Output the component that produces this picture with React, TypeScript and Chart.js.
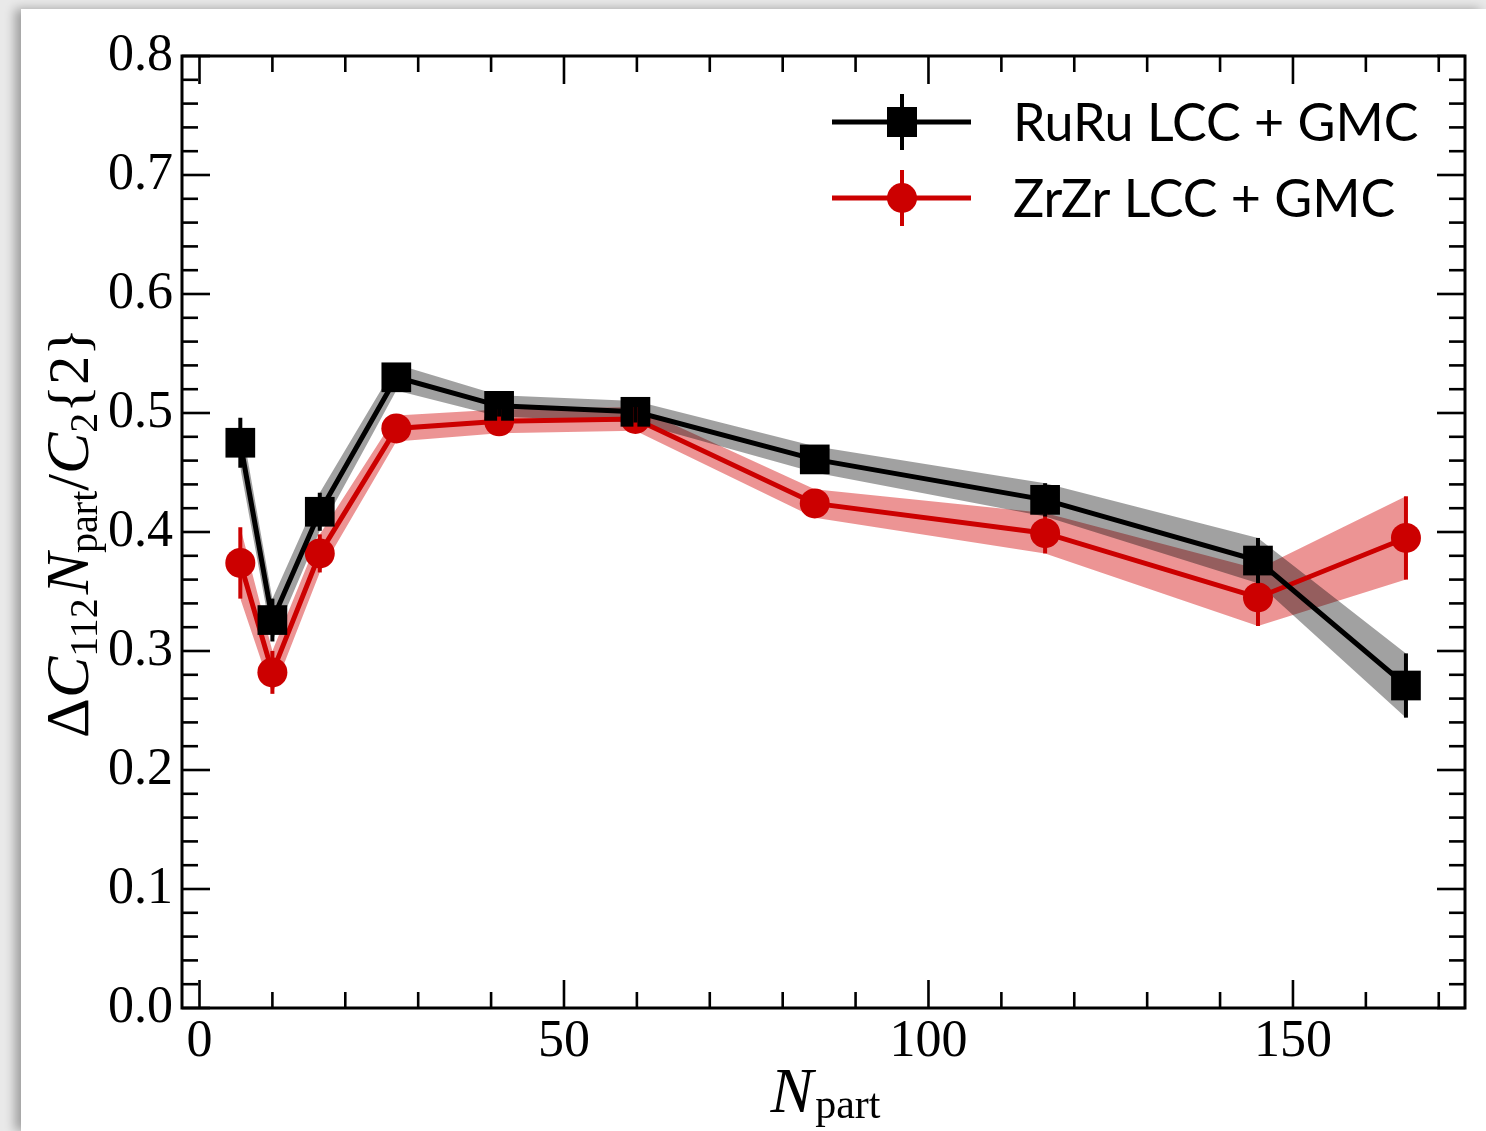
import React, { useEffect, useRef } from 'react';
import { Chart, registerables } from 'chart.js';

Chart.register(...registerables);

// Participant numbers of the centrality bins
const nPart = [5.6, 10, 16.5, 27, 41.1, 59.8, 84.4, 116, 145.2, 165.5];

// ΔC112 Npart / C2{2} for each system, with uncertainties
const ruruValues = [0.475, 0.326, 0.417, 0.53, 0.506, 0.501, 0.461, 0.427, 0.376, 0.271];
const ruruErrors = [0.021, 0.018, 0.016, 0.011, 0.009, 0.009, 0.011, 0.014, 0.019, 0.027];
const zrzrValues = [0.374, 0.282, 0.382, 0.487, 0.493, 0.495, 0.424, 0.399, 0.345, 0.395];
const zrzrErrors = [0.03, 0.018, 0.016, 0.011, 0.01, 0.01, 0.012, 0.017, 0.024, 0.035];

const seriesLabels = ['RuRu LCC + GMC', 'ZrZr LCC + GMC'];

// Axis ranges and tick spacing
const xRange = [-2.4, 173.6];
const yRange = [0, 0.8];
const xMinorStep = 10;
const xMajorStep = 50;
const yMinorStep = 0.02;
const yMajorStep = 0.1;

const BLACK = '#000000';
const RED = '#cc0000';
const BLACK_BAND = 'rgba(0,0,0,0.37)';
const RED_BAND = 'rgba(210,0,0,0.42)';
const SERIF = '"Liberation Serif", "DejaVu Serif", serif';
const SANS = 'Lato, "Liberation Sans", sans-serif';

const isMultiple = (v: number, step: number) => Math.abs(v / step - Math.round(v / step)) < 1e-6;

type Seg = { t: string; size: number; italic?: boolean; dy?: number; gap?: number };

function drawRich(ctx: CanvasRenderingContext2D, segs: Seg[], cx: number, baseline: number) {
  const fontOf = (s: Seg) => `${s.italic ? 'italic ' : ''}${s.size}px ${SERIF}`;
  const widths = segs.map((s) => {
    ctx.font = fontOf(s);
    return ctx.measureText(s.t).width + (s.gap || 0);
  });
  const total = widths.reduce((a, b) => a + b, 0);
  let x = cx - total / 2;
  ctx.textAlign = 'left';
  ctx.textBaseline = 'alphabetic';
  segs.forEach((s, i) => {
    ctx.font = fontOf(s);
    ctx.fillText(s.t, x, baseline + (s.dy || 0));
    x += widths[i];
  });
}

const toPoints = (vals: number[], shift: number[] = [], sign = 0) =>
  nPart.map((x, i) => ({ x, y: vals[i] + sign * (shift[i] || 0) }));

// Vertical error bars on top of the data lines
const errorBars = {
  id: 'errorBars',
  afterDatasetsDraw(chart: any) {
    const { ctx, scales } = chart;
    const sets = [
      { vals: zrzrValues, errs: zrzrErrors, color: RED },
      { vals: ruruValues, errs: ruruErrors, color: BLACK },
    ];
    ctx.save();
    ctx.lineWidth = 4;
    sets.forEach(({ vals, errs, color }) => {
      ctx.strokeStyle = color;
      nPart.forEach((x, i) => {
        const px = scales.x.getPixelForValue(x);
        ctx.beginPath();
        ctx.moveTo(px, scales.y.getPixelForValue(vals[i] + errs[i]));
        ctx.lineTo(px, scales.y.getPixelForValue(vals[i] - errs[i]));
        ctx.stroke();
      });
    });
    ctx.restore();
  },
};

// Frame with inward ticks on all four sides, axis titles and legend
const frameAndLabels = {
  id: 'frameAndLabels',
  afterDraw(chart: any) {
    const { ctx, chartArea, scales } = chart;
    const { left, right, top, bottom } = chartArea;
    ctx.save();
    ctx.strokeStyle = '#000';
    ctx.lineWidth = 3;
    ctx.strokeRect(left, top, right - left, bottom - top);

    ctx.lineWidth = 2.6;
    const seg = (x1: number, y1: number, x2: number, y2: number) => {
      ctx.beginPath();
      ctx.moveTo(x1, y1);
      ctx.lineTo(x2, y2);
      ctx.stroke();
    };
    scales.x.ticks.forEach((t: any) => {
      const px = scales.x.getPixelForValue(t.value);
      const len = isMultiple(t.value, xMajorStep) ? 28 : 16;
      seg(px, bottom, px, bottom - len);
      seg(px, top, px, top + len);
    });
    scales.y.ticks.forEach((t: any) => {
      const py = scales.y.getPixelForValue(t.value);
      const len = isMultiple(t.value, yMajorStep) ? 28 : 16;
      seg(left, py, left + len, py);
      seg(right, py, right - len, py);
    });

    ctx.fillStyle = '#000';
    // x title: N_part
    drawRich(
      ctx,
      [
        { t: 'N', size: 64, italic: true, gap: 2 },
        { t: 'part', size: 42, dy: 6 },
      ],
      (left + right) / 2 + 2,
      1112
    );

    // y title: ΔC_112 N_part / C_2{2}
    ctx.save();
    ctx.translate(88, (top + bottom) / 2 + 1);
    ctx.rotate(-Math.PI / 2);
    drawRich(
      ctx,
      [
        { t: 'Δ', size: 62 },
        { t: 'C', size: 62, italic: true },
        { t: '112', size: 40, dy: 9, gap: 4 },
        { t: 'N', size: 62, italic: true },
        { t: 'part', size: 40, dy: 9 },
        { t: '/', size: 60 },
        { t: 'C', size: 62, italic: true },
        { t: '2', size: 40, dy: 9 },
        { t: '{2}', size: 58 },
      ],
      0,
      0
    );
    ctx.restore();

    // legend
    const entries = [
      { label: seriesLabels[0], color: BLACK, y: 122, shape: 'rect' },
      { label: seriesLabels[1], color: RED, y: 198, shape: 'circle' },
    ];
    const lx0 = 832;
    const lx1 = 971;
    const mx = 902;
    entries.forEach((e) => {
      ctx.strokeStyle = e.color;
      ctx.fillStyle = e.color;
      ctx.lineWidth = 5;
      seg(lx0, e.y, lx1, e.y);
      ctx.lineWidth = 4;
      seg(mx, e.y - 28, mx, e.y + 28);
      if (e.shape === 'rect') {
        ctx.fillRect(mx - 15, e.y - 15, 30, 30);
      } else {
        ctx.beginPath();
        ctx.arc(mx, e.y, 15, 0, Math.PI * 2);
        ctx.fill();
      }
      ctx.fillStyle = '#000';
      ctx.font = `52px ${SANS}`;
      ctx.textAlign = 'left';
      ctx.textBaseline = 'alphabetic';
      ctx.fillText(e.label, 1013, e.y + 19);
    });
    ctx.restore();
  },
};

export default function App() {
  const canvasRef = useRef<HTMLCanvasElement | null>(null);

  useEffect(() => {
    const canvas = canvasRef.current;
    if (!canvas) return;
    const tickFont = { family: SERIF, size: 52 };

    const chart = new Chart(canvas, {
      type: 'line',
      data: {
        datasets: [
          {
            label: seriesLabels[0],
            data: toPoints(ruruValues),
            borderColor: BLACK,
            backgroundColor: BLACK,
            borderWidth: 5,
            pointStyle: 'rect',
            pointRadius: 21,
            pointBorderWidth: 0,
            pointBackgroundColor: BLACK,
            tension: 0,
            fill: false,
            order: 0,
          },
          {
            label: seriesLabels[1],
            data: toPoints(zrzrValues),
            borderColor: RED,
            backgroundColor: RED,
            borderWidth: 5,
            pointStyle: 'circle',
            pointRadius: 15,
            pointBorderWidth: 0,
            pointBackgroundColor: RED,
            tension: 0,
            fill: false,
            order: 1,
          },
          {
            label: 'RuRu band upper',
            data: toPoints(ruruValues, ruruErrors, 1),
            borderWidth: 0,
            pointRadius: 0,
            backgroundColor: BLACK_BAND,
            fill: '+1',
            order: 2,
          },
          {
            label: 'RuRu band lower',
            data: toPoints(ruruValues, ruruErrors, -1),
            borderWidth: 0,
            pointRadius: 0,
            fill: false,
            order: 2,
          },
          {
            label: 'ZrZr band upper',
            data: toPoints(zrzrValues, zrzrErrors, 1),
            borderWidth: 0,
            pointRadius: 0,
            backgroundColor: RED_BAND,
            fill: '+1',
            order: 3,
          },
          {
            label: 'ZrZr band lower',
            data: toPoints(zrzrValues, zrzrErrors, -1),
            borderWidth: 0,
            pointRadius: 0,
            fill: false,
            order: 3,
          },
        ] as any,
      },
      options: {
        animation: false,
        responsive: false,
        layout: { padding: { top: 56, right: 17, left: 0, bottom: 0 } },
        plugins: {
          legend: { display: false },
          tooltip: { enabled: false },
        },
        scales: {
          x: {
            type: 'linear',
            min: xRange[0],
            max: xRange[1],
            grid: { display: false, drawTicks: false },
            border: { display: false },
            ticks: {
              stepSize: xMinorStep,
              includeBounds: false,
              autoSkip: false,
              maxRotation: 0,
              padding: 3,
              color: '#000',
              font: tickFont,
              callback: (v: any) => (isMultiple(Number(v), xMajorStep) ? String(Math.round(Number(v))) : ''),
            },
            afterFit: (s: any) => {
              s.height = 123;
            },
          },
          y: {
            type: 'linear',
            min: yRange[0],
            max: yRange[1],
            grid: { display: false, drawTicks: false },
            border: { display: false },
            ticks: {
              stepSize: yMinorStep,
              includeBounds: false,
              autoSkip: false,
              padding: 9,
              color: '#000',
              font: tickFont,
              callback: (v: any) => (isMultiple(Number(v), yMajorStep) ? Number(v).toFixed(1) : ''),
            },
            afterFit: (s: any) => {
              s.width = 182;
            },
          },
        },
      } as any,
      plugins: [errorBars, frameAndLabels],
    });

    return () => chart.destroy();
  }, []);

  return (
    <div
      style={{
        position: 'absolute',
        left: 0,
        top: 0,
        width: 1486,
        height: 1131,
        background: '#e9e9e9',
        overflow: 'hidden',
      }}
    >
      <div
        style={{
          position: 'absolute',
          left: 21,
          top: 9,
          width: 1465,
          height: 1122,
          background: '#ffffff',
          boxShadow: '-6px 0 10px rgba(0,0,0,0.32)',
        }}
      />
      <canvas
        ref={canvasRef}
        width={1486}
        height={1131}
        style={{ position: 'absolute', left: 0, top: 0 }}
      />
    </div>
  );
}
